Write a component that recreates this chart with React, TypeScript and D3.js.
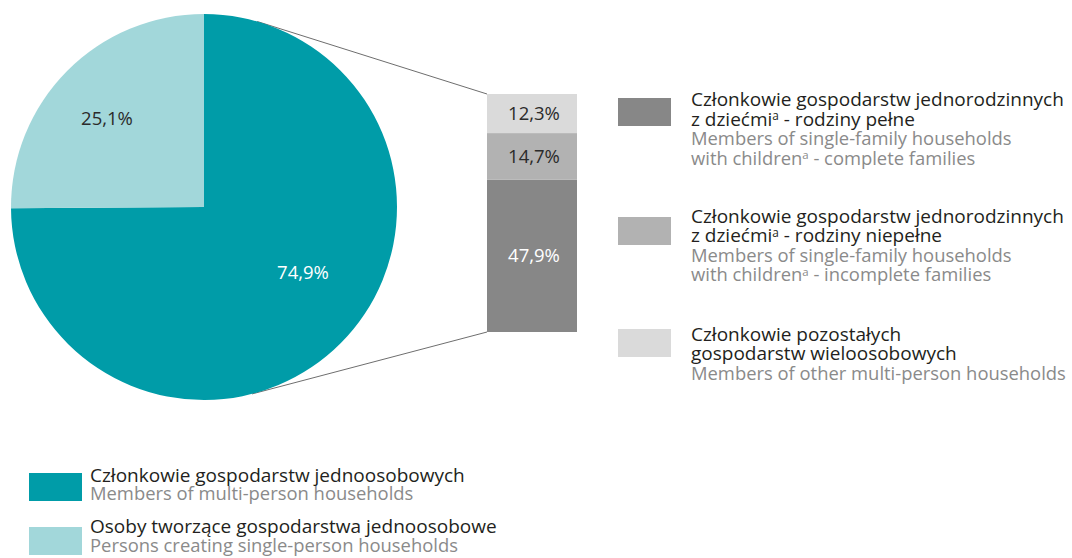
import React from "react";
import * as d3 from "d3";

const pieCategories = ["Członkowie gospodarstw jednoosobowych", "Osoby tworzące gospodarstwa jednoosobowe"];
const pieValues = [74.9, 25.1];
const pieLabels = ["74,9%", "25,1%"];
const pieColors = ["#009ca8", "#a2d7da"];

const barCategories = ["rodziny pełne", "rodziny niepełne", "pozostałe"];
const barValues = [47.9, 14.7, 12.3];
const barLabels = ["47,9%", "14,7%", "12,3%"];
const barColors = ["#878787", "#b2b2b2", "#dadada"];
const barLabelColors = ["#ffffff", "#2b2b2b", "#2b2b2b"];

const FONT = "'Open Sans', 'Noto Sans', sans-serif";
const DARK = "#231f20";
const GREY = "#8a8a8a";

type Line = { text: string; sup?: string; rest?: string; color: string };

const rightLegend: { color: string; lines: Line[] }[] = [
  {
    color: barColors[0],
    lines: [
      { text: "Członkowie gospodarstw jednorodzinnych", color: DARK },
      { text: "z dziećmi", sup: "a", rest: " - rodziny pełne", color: DARK },
      { text: "Members of single-family households", color: GREY },
      { text: "with children", sup: "a", rest: " - complete families", color: GREY },
    ],
  },
  {
    color: barColors[1],
    lines: [
      { text: "Członkowie gospodarstw jednorodzinnych", color: DARK },
      { text: "z dziećmi", sup: "a", rest: " - rodziny niepełne", color: DARK },
      { text: "Members of single-family households", color: GREY },
      { text: "with children", sup: "a", rest: " - incomplete families", color: GREY },
    ],
  },
  {
    color: barColors[2],
    lines: [
      { text: "Członkowie pozostałych", color: DARK },
      { text: "gospodarstw wieloosobowych", color: DARK },
      { text: "Members of other multi-person households", color: GREY },
    ],
  },
];

const bottomLegend: { color: string; lines: Line[] }[] = [
  {
    color: pieColors[0],
    lines: [
      { text: pieCategories[0], color: DARK },
      { text: "Members of multi-person households", color: GREY },
    ],
  },
  {
    color: pieColors[1],
    lines: [
      { text: pieCategories[1], color: DARK },
      { text: "Persons creating single-person households", color: GREY },
    ],
  },
];

export default function App() {
  const W = 1072, H = 558;
  const cx = 204, cy = 207, R = 193;
  const fsDark = 19;
  const fsGrey = 18.4;
  const nfs = 18.5;

  const pie = d3.pie<number>().sort(null).value((d) => d).startAngle(0).endAngle(2 * Math.PI);
  const arcs = pie(pieValues);
  const arc = d3.arc<d3.PieArcDatum<number>>().innerRadius(0).outerRadius(R);

  // bar
  const barX = 487, barW = 90, barTop = 94, barBottom = 332;
  const total = d3.sum(barValues);
  const y = d3.scaleLinear().domain([0, total]).range([barBottom, barTop]);
  let acc = 0;
  const segs = barValues.map((v, i) => {
    const s = { y0: y(acc), y1: y(acc + v), i };
    acc += v;
    return s;
  });

  const ptAt = (deg: number) => {
    const a = (deg * Math.PI) / 180;
    return [cx + R * Math.sin(a), cy - R * Math.cos(a)];
  };
  const pTop = ptAt(16);
  const pBot = ptAt(165.6);

  const renderBlock = (lines: Line[], x: number, y0: number, gap: number) => (
    <text x={x} y={y0} fontFamily={FONT}>
      {lines.map((l, li) => {
        const f = l.color === DARK ? fsDark : fsGrey;
        return (
          <React.Fragment key={li}>
            <tspan x={x} y={y0 + li * gap} fill={l.color} fontSize={f}>
              {l.text}
            </tspan>
            {l.sup && (
              <tspan fill={l.color} fontSize={f * 0.62} dy={-5.5}>
                {l.sup}
              </tspan>
            )}
            {l.rest && (
              <tspan fill={l.color} fontSize={f} dy={5.5}>
                {l.rest}
              </tspan>
            )}
          </React.Fragment>
        );
      })}
    </text>
  );

  const rightSwatchY = [98, 217, 329];
  const rightBaseY = [106, 222.7, 340.5];
  const lineGap = 19.5;

  const bottomSwatchY = [473, 527];
  const bottomBaseY = [481.5, 533.3];

  return (
    <svg width={W} height={H} style={{ position: "absolute", left: 0, top: 0 }} xmlns="http://www.w3.org/2000/svg">
      <rect width={W} height={H} fill="#ffffff" />
      {/* connector lines */}
      <line x1={pTop[0]} y1={pTop[1]} x2={barX} y2={barTop} stroke="#6e6e6e" strokeWidth={1} />
      <line x1={pBot[0]} y1={pBot[1]} x2={barX} y2={barBottom} stroke="#6e6e6e" strokeWidth={1} />
      {/* pie */}
      <g transform={`translate(${cx},${cy})`}>
        {arcs.map((a, i) => (
          <path key={i} d={arc(a) || ""} fill={pieColors[i]} />
        ))}
      </g>
      <text x={303} y={279} textAnchor="middle" fill="#ffffff" fontSize={nfs} fontFamily={FONT}>
        {pieLabels[0]}
      </text>
      <text x={107} y={125} textAnchor="middle" fill="#2b2b2b" fontSize={nfs} fontFamily={FONT}>
        {pieLabels[1]}
      </text>
      {/* bar */}
      {segs.map((s) => (
        <g key={s.i}>
          <rect x={barX} y={s.y1} width={barW} height={s.y0 - s.y1} fill={barColors[s.i]} />
          <text
            x={barX + barW / 2 + 2}
            y={(s.y0 + s.y1) / 2 + 6.5}
            textAnchor="middle"
            fill={barLabelColors[s.i]}
            fontSize={nfs}
            fontFamily={FONT}
          >
            {barLabels[s.i]}
          </text>
        </g>
      ))}
      {/* right legend */}
      {rightLegend.map((g, gi) => (
        <g key={gi}>
          <rect x={618} y={rightSwatchY[gi]} width={53} height={28} fill={g.color} />
          {renderBlock(g.lines, 691, rightBaseY[gi], lineGap)}
        </g>
      ))}
      {/* bottom legend */}
      {bottomLegend.map((g, gi) => (
        <g key={gi}>
          <rect x={29} y={bottomSwatchY[gi]} width={53} height={28} fill={g.color} />
          {renderBlock(g.lines, 90, bottomBaseY[gi], 18.5)}
        </g>
      ))}
    </svg>
  );
}
